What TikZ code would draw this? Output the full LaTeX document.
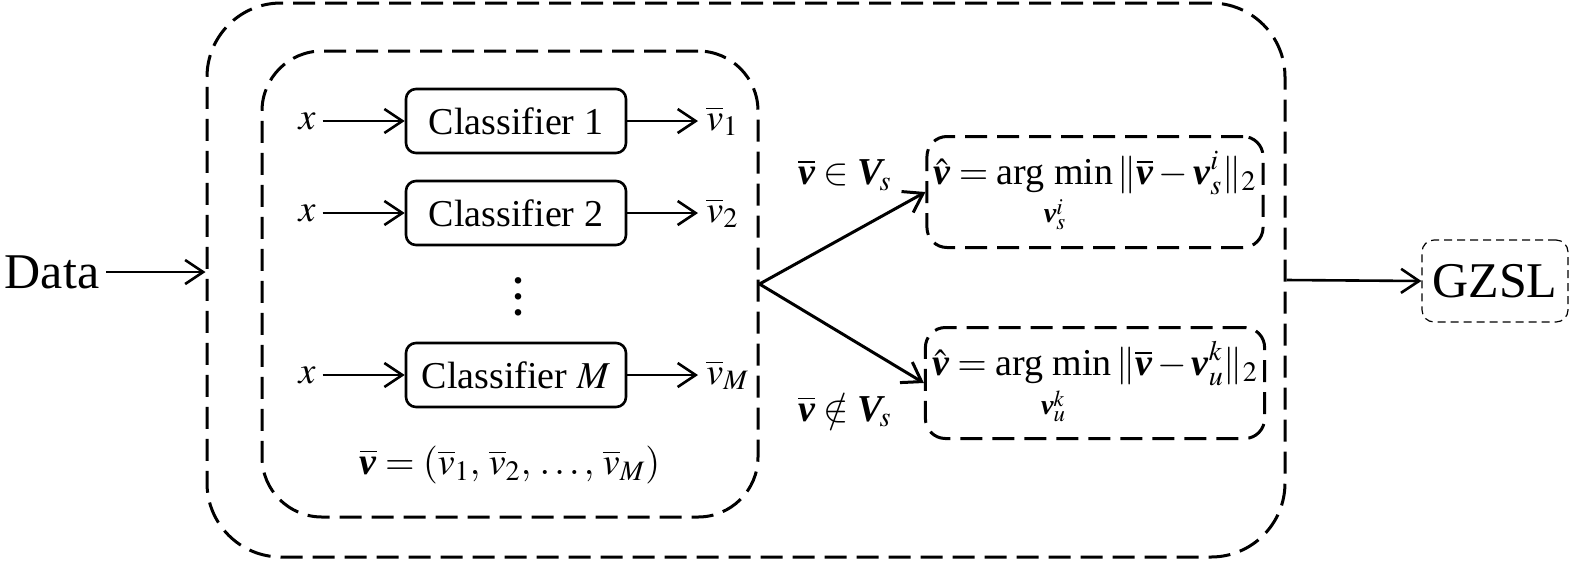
\documentclass[tikz,border=0pt]{standalone}
\usepackage{amsmath}
\usepackage{mathptmx}
\usepackage{fontspec}
\setmainfont{Liberation Serif}
\usetikzlibrary{arrows.meta}
\newcommand{\bv}{\text{\bfseries\itshape v}}
\newcommand{\bV}{\text{\bfseries\itshape V}}
\newcommand{\argmin}{\mathop{\text{arg min}}\limits}
\begin{document}
\begin{tikzpicture}[x=0.5pt,y=-0.5pt,
  font=\fontsize{19}{22}\selectfont,
  >={Straight Barb[length=9pt,width=12pt]},
  frame/.style={draw,dash pattern=on 11pt off 5pt,line width=1.5pt},
  cls node/.style={draw,rounded corners=5pt,line width=1.3pt,minimum width=110pt,minimum height=32pt},
  big text/.style={font=\fontsize{25}{28}\selectfont}]
  \useasboundingbox (0,0) rectangle (1575,564);
  \node[frame,rounded corners=37pt,minimum width=539pt,minimum height=277pt] (outer) at (746,280) {};
  \node[frame,rounded corners=30pt,minimum width=248pt,minimum height=233pt] (inner) at (510,284) {};

  \node[big text] (data) at (52,272) {Data};
  \node[big text,draw,dash pattern=on 4pt off 2.5pt,line width=0.6pt,rounded corners=6pt,
    minimum width=73pt,minimum height=41pt,inner sep=1pt] (gzsl) at (1495,281) {GZSL};

  \node (x1) at (307,121) {$x$};
  \node (x2) at (307,213) {$x$};
  \node (xM) at (307,375) {$x$};
  \node[cls node] (c1) at (516,121) {Classifier 1};
  \node[cls node] (c2) at (516,213) {Classifier 2};
  \node[cls node] (cM) at (516,375) {Classifier $M$};
  \node[anchor=west,inner sep=4pt] (v1) at (698,121) {$\overline{v}_1$};
  \node[anchor=west,inner sep=4pt] (v2) at (698,213) {$\overline{v}_2$};
  \node[anchor=west,inner sep=4pt] (vM) at (698,375) {$\overline{v}_M$};
  \node[align=center,font=\fontsize{20}{8}\selectfont\bfseries] (dots) at (518,297) {.\\.\\.};
  \node (vec) at (510,465) {$\overline{\bv}=(\overline{v}_1,\,\overline{v}_2,\,\ldots,\,\overline{v}_M)$};

  \node[frame,rounded corners=10pt,minimum width=167.5pt,minimum height=55.5pt] (fs) at (1095,192)
    {$\displaystyle\hat{\bv}=\argmin_{\bv_s^i}\|\overline{\bv}-\bv_s^i\|_2$};
  \node[frame,rounded corners=10pt,minimum width=167.5pt,minimum height=55.5pt] (fu) at (1095,383)
    {$\displaystyle\hat{\bv}=\argmin_{\bv_u^k}\|\overline{\bv}-\bv_u^k\|_2$};
  \node (ins) at (845,175) {$\overline{\bv}\in\bV_{\!s}$};
  \node (outs) at (845,410) {$\overline{\bv}\notin\bV_{\!s}$};

  \path[->,line width=1.3pt]
   (x1) edge (c1)
   (x2) edge (c2)
   (xM) edge (cM)
   (c1) edge (v1)
   (c2) edge (v2)
   (cM) edge (vM)
   (data.east) edge (data.east -| outer.west)
   (outer.east) edge (gzsl.west);
  \path[->,line width=1.5pt]
   (inner.east) edge (fs.west)
   (inner.east) edge (fu.west);
\end{tikzpicture}
\end{document}
